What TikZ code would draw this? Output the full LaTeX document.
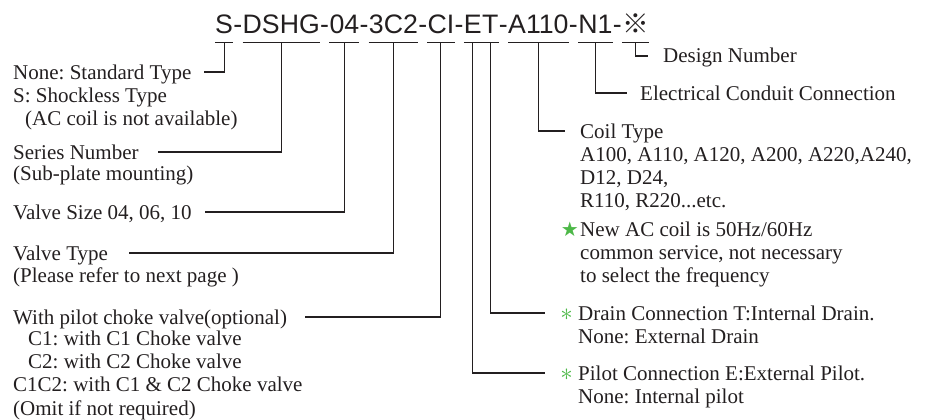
\documentclass[tikz,border=0pt]{standalone}
\usepackage{fontspec}
\setmainfont{Liberation Serif}
\newfontfamily\codefont{Liberation Sans}
\newfontfamily\cjkfont{Noto Sans CJK JP}
\newfontfamily\symfont{DejaVu Sans}
\usetikzlibrary{positioning}
\definecolor{inkgray}{RGB}{35,31,32}
\definecolor{markgreen}{RGB}{77,184,72}
\frenchspacing

\begin{document}
\begin{tikzpicture}[
  x=1pt, y=-1pt,
  seg/.style={inner xsep=0pt,inner ysep=0pt,text depth=8.5pt,
              font=\codefont\fontsize{26.7}{30}\selectfont,text=inkgray},
  hyph/.style={seg},
  txt/.style={inner sep=0pt,anchor=base west,align=left,
              font=\fontsize{21}{23.3}\selectfont,text=inkgray},
  greenstar/.style={inner sep=0pt,anchor=base east,text=markgreen,
                    font=\symfont\fontsize{20}{20}\selectfont},
  greenast/.style={inner sep=0pt,anchor=base east,text=markgreen,
                   font=\fontsize{24}{24}\selectfont},
  uline/.style={draw=inkgray,line width=1.2pt},
  conn/.style={draw=inkgray,line width=1.1pt},
]
\useasboundingbox (0,0) rectangle (931,420);

%% Model code S-DSHG-04-3C2-CI-ET-A110-N1-*
\node[seg,anchor=base west] (s) at (215,34) {S};
\node[hyph,base right=0pt of s]     (h1)    {-};
\node[seg, base right=0pt of h1]    (ser)   {DSHG};
\node[hyph,base right=0pt of ser]   (h2)    {-};
\node[seg, base right=0pt of h2]    (size)  {04};
\node[hyph,base right=0pt of size]  (h3)    {-};
\node[seg, base right=0pt of h3]    (vtype) {3C2};
\node[hyph,base right=0pt of vtype] (h4)    {-};
\node[seg, base right=0pt of h4]    (choke) {CI};
\node[hyph,base right=0pt of choke] (h5)    {-};
\node[seg, base right=0pt of h5]    (pil)   {E};
\node[seg, base right=0pt of pil]   (drn)   {T};
\node[hyph,base right=0pt of drn]   (h6)    {-};
\node[seg, base right=0pt of h6]    (coil)  {A110};
\node[hyph,base right=0pt of coil]  (h7)    {-};
\node[seg, base right=0pt of h7]    (cond)  {N1};
\node[hyph,base right=0pt of cond]  (h8)    {-};
\node[seg, base right=0pt of h8,
      font=\cjkfont\fontsize{26.7}{30}\selectfont] (des) {※};

% underlines
\foreach \n in {s,ser,size,vtype,choke,coil,cond,des}
  \draw[uline] (\n.south west) -- (\n.south east);
\draw[uline] (pil.south west) -- (drn.south east);

%% Left labels (body nodes sit on the baseline of their last line)
\node[txt] (stdl) at (13,79) {None: Standard Type};
\node[txt] (stdb) at ([yshift=-2*23.3pt]stdl.base west)
  {S: Shockless Type\\\hspace*{12pt}(AC coil is not available)};
\node[txt] (serl) at (13,159) {Series Number};
\node[txt] (serb) at ([yshift=-21pt]serl.base west) {(Sub-plate mounting)};
\node[txt] (sizel) at (13,219) {Valve Size 04, 06, 10};
\node[txt] (typel) at (13,260) {Valve Type};
\node[txt] (typeb) at ([yshift=-22pt]typel.base west) {(Please refer to next page )};
\node[txt] (chokel) at (13,324) {With pilot choke valve(optional)};
\node[txt] (chokeb) at ([yshift=-91pt]chokel.base west)
  {\hspace*{15pt}C1: with C1 Choke valve\\
   \hspace*{15pt}C2: with C2 Choke valve\\
   C1C2: with C1 \& C2 Choke valve\\
   (Omit if not required)};

%% Right labels
\node[txt] (desl)  at (663,63)  {Design Number};
\node[txt] (condl) at (640,100) {Electrical Conduit Connection};
\node[txt] (coill) at (580,138) {Coil Type};
\node[txt] (coilb) at ([yshift=-3*23.3pt]coill.base west)
  {A100, A110, A120, A200, A220,A240,\\
   D12, D24,\\
   R110, R220...etc.};
\node[txt] (acnote) at (580,236) {New AC coil is 50Hz/60Hz};
\node[txt] (acnoteb) at ([yshift=-2*23.3pt]acnote.base west)
  {common service, not necessary\\
   to select the frequency};
\node[greenstar] (acstar) at ([xshift=-1pt]acnote.base west) {★};
\node[txt] (drnl) at (578,320) {Drain Connection T:Internal Drain.};
\node[txt] (drnb) at ([yshift=-23.5pt]drnl.base west) {None: External Drain};
\node[greenast] (drnm) at ([xshift=-5pt]drnl.base west) {$\ast$};
\node[txt] (pill) at (578,380) {Pilot Connection E:External Pilot.};
\node[txt] (pilb) at ([yshift=-23.5pt]pill.base west) {None: Internal pilot};
\node[greenast] (pilm) at ([xshift=-5pt]pill.base west) {$\ast$};

%% Connectors
\draw[conn] (s.south)     |- ([xshift=12pt,yshift=7pt]stdl.base east);
\draw[conn] (ser.south)   |- ([xshift=19pt,yshift=7pt]serl.base east);
\draw[conn] (size.south)  |- ([xshift=13pt,yshift=7pt]sizel.base east);
\draw[conn] (vtype.south) |- ([xshift=21pt,yshift=7pt]typel.base east);
\draw[conn] (choke.south) |- ([xshift=18pt,yshift=7pt]chokel.base east);
\draw[conn] (des.south)   |- ([xshift=-15pt,yshift=7pt]desl.base west);
\draw[conn] (cond.south)  |- ([xshift=-13pt,yshift=7pt]condl.base west);
\draw[conn] (coil.south)  |- ([xshift=-15pt,yshift=7pt]coill.base west);
\draw[conn] (drn.south)   |- ([xshift=-33pt,yshift=7pt]drnl.base west);
\draw[conn] (pil.south)   |- ([xshift=-33pt,yshift=7pt]pill.base west);

\end{tikzpicture}
\end{document}
